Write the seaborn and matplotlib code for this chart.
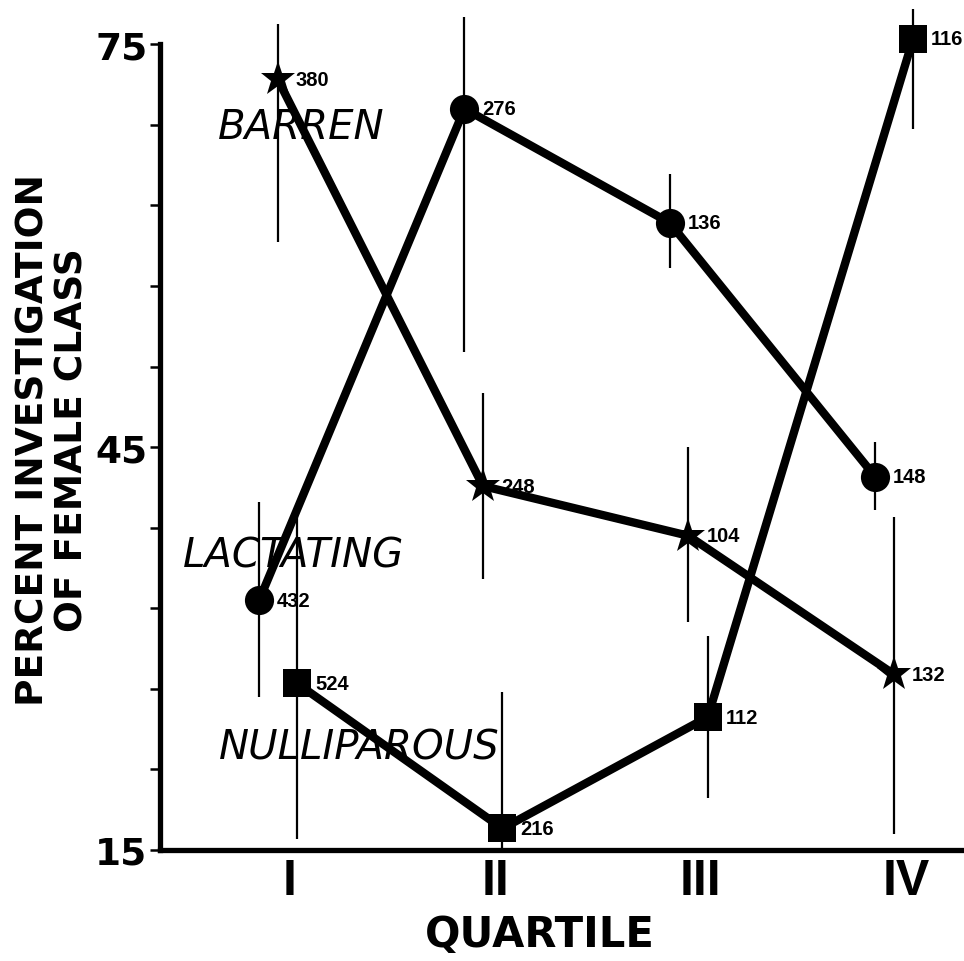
import pandas as pd
import seaborn as sns
import matplotlib.pyplot as plt

# Quartile categories and x tick labels
quartiles = ['I', 'II', 'III', 'IV']
quartile_pos = [1, 2, 3, 4]

# Percent investigation per female class (means, error bar ends, n)
barren = [72.4, 42.1, 38.4, 28.1]
barren_lo = [60.3, 35.2, 32.0, 16.2]
barren_hi = [76.5, 49.0, 45.0, 39.8]
barren_n = [380, 248, 104, 132]

lactating = [33.6, 70.2, 61.7, 42.8]
lactating_lo = [26.4, 52.1, 58.3, 40.3]
lactating_hi = [40.9, 77.0, 65.3, 45.4]
lactating_n = [432, 276, 136, 148]

nulliparous = [27.4, 16.6, 24.9, 75.4]
nulliparous_lo = [15.8, 15.1, 18.9, 68.7]
nulliparous_hi = [40.8, 26.8, 30.9, 77.6]
nulliparous_n = [524, 216, 112, 116]

yticks = [15, 21, 27, 33, 39, 45, 51, 57, 63, 69, 75]
ytick_labels = ['15', '', '', '', '', '45', '', '', '', '', '75']

sns.set_style('ticks')
plt.rcParams.update({'text.color': 'black', 'axes.labelcolor': 'black',
                     'xtick.color': 'black', 'ytick.color': 'black',
                     'axes.edgecolor': 'black'})

fig = plt.figure(figsize=(9.64, 9.62), dpi=100)
ax = fig.add_axes([0.166, 0.1154, 0.834, 0.8376])

series = [
    ('BARREN', barren, barren_lo, barren_hi, barren_n, '*', 26, -0.06),
    ('LACTATING', lactating, lactating_lo, lactating_hi, lactating_n, 'o', 21, -0.15),
    ('NULLIPAROUS', nulliparous, nulliparous_lo, nulliparous_hi, nulliparous_n, 's', 20, 0.035),
]

for name, vals, lo, hi, ns, mk, ms, off in series:
    df = pd.DataFrame({'x': [p + off for p in quartile_pos], 'y': vals,
                       'lo': lo, 'hi': hi, 'n': ns})
    ax.vlines(df['x'], df['lo'], df['hi'], colors='black', lw=1.6,
              clip_on=False, zorder=2)
    sns.lineplot(data=df, x='x', y='y', color='black', lw=6, marker=mk,
                 markersize=ms, markeredgewidth=0, ax=ax, clip_on=False,
                 zorder=3)
    for _, r in df.iterrows():
        ax.annotate(f"{int(r['n'])}", (r['x'], r['y']), xytext=(13, 0),
                    textcoords='offset points', ha='left', va='center',
                    fontsize=14.5, fontweight='bold', family='Liberation Sans',
                    annotation_clip=False)

# class names written on the chart
label_kw = dict(fontsize=29, style='italic', family='DejaVu Sans',
                va='center', ha='left', zorder=1)
ax.text(0.65, 68.9, 'BARREN', **label_kw)
ax.text(0.48, 37.0, 'LACTATING', **label_kw)
ax.text(0.655, 22.7, 'NULLIPAROUS', **label_kw)

ax.set_xlim(0.367, 4.283)
ax.set_ylim(15, 75)
ax.set_xticks(quartile_pos)
ax.set_xticklabels(quartiles, fontsize=36, fontweight='bold',
                   family='Liberation Sans')
ax.set_yticks(yticks)
ax.set_yticklabels(ytick_labels, fontsize=27, fontweight='bold')
ax.tick_params(axis='x', length=0, pad=6)
ax.tick_params(axis='y', length=7, width=1.8, direction='out', pad=2)
ax.set_xlabel('QUARTILE', fontsize=30, fontweight='bold', va='center')
ax.xaxis.set_label_coords(0.473, -0.104)
ax.set_ylabel('')

sns.despine(ax=ax)
for s in ['left', 'bottom']:
    ax.spines[s].set_linewidth(3.8)

fig.text(0.055, 0.543, 'PERCENT INVESTIGATION\nOF FEMALE CLASS', rotation=90,
         ha='center', va='center', fontsize=27, fontweight='bold',
         linespacing=1.1)

fig.savefig('out.png', dpi=100)
